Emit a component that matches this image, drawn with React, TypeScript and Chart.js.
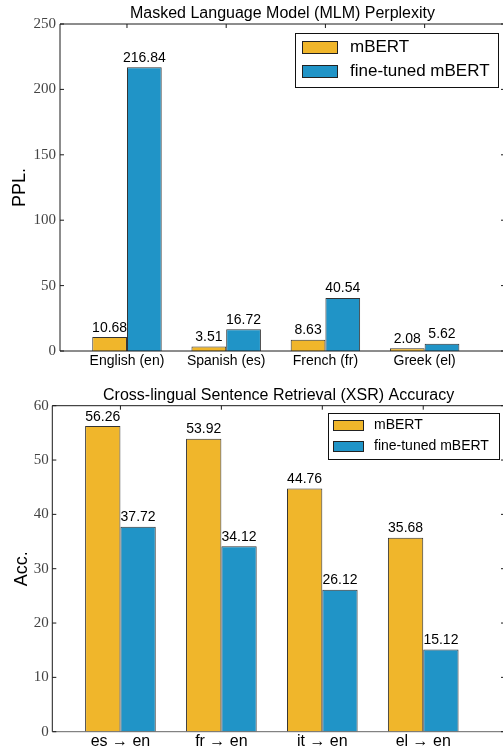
import React, { useEffect, useRef } from 'react';
import { Chart, registerables } from 'chart.js';

Chart.register(...registerables);

// ---------- data ----------
const seriesLabels = ['mBERT', 'fine-tuned mBERT'];

const mlmCategories = ['English (en)', 'Spanish (es)', 'French (fr)', 'Greek (el)'];
const mlmBase = [10.68, 3.51, 8.63, 2.08];
const mlmTuned = [216.84, 16.72, 40.54, 5.62];
const mlmTicks = [0, 50, 100, 150, 200, 250];

const xsrCategories = ['es → en', 'fr → en', 'it → en', 'el → en'];
const xsrBase = [56.26, 53.92, 44.76, 35.68];
const xsrTuned = [37.72, 34.12, 26.12, 15.12];
const xsrTicks = [0, 10, 20, 30, 40, 50, 60];

// ---------- style ----------
const YELLOW = '#F0B62B';
const BLUE = '#2094C7';
const EDGE = '#333333';
const SANS = "'Liberation Sans', Arial, sans-serif";
const SERIF = "'Liberation Serif', 'Times New Roman', serif";

const framePlugin = {
  id: 'frame',
  afterDraw(chart: any, _args: any, opts: any) {
    const { ctx, chartArea: ca, scales } = chart;
    ctx.save();
    ctx.lineWidth = 1;
    ctx.strokeStyle = '#1a1a1a';
    ctx.beginPath();
    ctx.moveTo(ca.left, ca.bottom);
    ctx.lineTo(ca.left, ca.top);
    ctx.lineTo(ca.right, ca.top);
    ctx.lineTo(ca.right, ca.bottom);
    ctx.stroke();
    ctx.strokeStyle = opts.bottomColor || '#1a1a1a';
    ctx.beginPath();
    ctx.moveTo(ca.left, ca.bottom);
    ctx.lineTo(ca.right, ca.bottom);
    ctx.stroke();
    ctx.strokeStyle = '#1a1a1a';
    ctx.beginPath();
    scales.y.ticks.forEach((t: any) => {
      const py = scales.y.getPixelForValue(t.value);
      ctx.moveTo(ca.left, py);
      ctx.lineTo(ca.left + 4, py);
      ctx.moveTo(ca.right, py);
      ctx.lineTo(ca.right - 4, py);
    });
    scales.x.ticks.forEach((t: any) => {
      const px = scales.x.getPixelForValue(t.value);
      ctx.moveTo(px, ca.top);
      ctx.lineTo(px, ca.top + 4);
    });
    ctx.stroke();
    ctx.restore();
  },
};

const valuePlugin = {
  id: 'values',
  afterDatasetsDraw(chart: any, _args: any, opts: any) {
    const { ctx } = chart;
    ctx.save();
    ctx.font = `${opts.size || 14}px ${SANS}`;
    ctx.fillStyle = '#000';
    ctx.textAlign = 'center';
    ctx.textBaseline = 'alphabetic';
    chart.data.datasets.forEach((ds: any, i: number) => {
      const meta = chart.getDatasetMeta(i);
      meta.data.forEach((el: any, j: number) => {
        const v = ds.data[j].y;
        ctx.fillText(v.toFixed(2), el.x, el.y - 5.5);
      });
    });
    ctx.restore();
  },
};

const boxLegendPlugin = {
  id: 'boxLegend',
  afterDraw(chart: any, _args: any, o: any) {
    const { ctx, chartArea: ca } = chart;
    const left = ca.right - o.right - o.width;
    const top = ca.top + o.top;
    ctx.save();
    ctx.fillStyle = '#fff';
    ctx.fillRect(left, top, o.width, o.height);
    ctx.strokeStyle = '#111';
    ctx.lineWidth = 1;
    ctx.strokeRect(left + 0.5, top + 0.5, o.width, o.height);
    ctx.font = `${o.fontSize}px ${SANS}`;
    ctx.textAlign = 'left';
    ctx.textBaseline = 'middle';
    chart.data.datasets.forEach((ds: any, i: number) => {
      const cy = top + o.rows[i];
      ctx.fillStyle = ds.backgroundColor;
      ctx.fillRect(left + o.patchX, cy - o.patchH / 2, o.patchW, o.patchH);
      ctx.strokeStyle = '#222';
      ctx.strokeRect(left + o.patchX + 0.5, cy - o.patchH / 2 + 0.5, o.patchW, o.patchH);
      ctx.fillStyle = '#000';
      ctx.fillText(ds.label, left + o.textX, cy + 0.5);
    });
    ctx.restore();
  },
};

type Spec = {
  categories: string[];
  base: number[];
  tuned: number[];
  yTicks: number[];
  title: string;
  yLabel: string;
  lay: any;
  legend: any;
};

function makeConfig(s: Spec): any {
  const L = s.lay;
  return {
    type: 'bar',
    data: {
      datasets: [
        {
          label: seriesLabels[0],
          data: s.base.map((v, i) => ({ x: i, y: v })),
          backgroundColor: YELLOW,
          borderColor: EDGE,
          borderWidth: 1,
        },
        {
          label: seriesLabels[1],
          data: s.tuned.map((v, i) => ({ x: i, y: v })),
          backgroundColor: BLUE,
          borderColor: EDGE,
          borderWidth: 1,
        },
      ],
    },
    options: {
      responsive: false,
      animation: false,
      devicePixelRatio: 1,
      categoryPercentage: 0.7,
      barPercentage: 1,
      layout: { padding: { left: 0, right: L.padRight, top: L.padTop, bottom: 0 } },
      plugins: {
        legend: { display: false },
        tooltip: { enabled: false },
        title: {
          display: true,
          fullSize: false,
          text: s.title,
          color: '#000',
          font: { family: SANS, size: 16, weight: 'normal', lineHeight: 1.2 },
          padding: { top: 0, bottom: L.titleGap },
        },
        frame: { bottomColor: L.bottomColor },
        values: { size: 14 },
        boxLegend: s.legend,
      },
      scales: {
        x: {
          type: 'linear',
          offset: false,
          min: -0.675,
          max: 3.81,
          grid: { display: false, drawTicks: false, offset: false },
          border: { display: false },
          afterBuildTicks: (sc: any) => {
            sc.ticks = s.categories.map((_, i) => ({ value: i }));
          },
          afterFit: (sc: any) => {
            sc.height = L.xHeight;
          },
          ticks: {
            autoSkip: false,
            maxRotation: 0,
            color: '#000',
            padding: L.xPad,
            font: { family: SANS, size: L.xFont, lineHeight: 1.2 },
            callback: (v: any) => s.categories[v] ?? '',
          },
        },
        y: {
          min: s.yTicks[0],
          max: s.yTicks[s.yTicks.length - 1],
          grid: { display: false, drawTicks: false },
          border: { display: false },
          afterBuildTicks: (sc: any) => {
            sc.ticks = s.yTicks.map((v) => ({ value: v }));
          },
          afterFit: (sc: any) => {
            sc.width = L.yWidth;
          },
          ticks: {
            color: '#444',
            padding: L.yPad,
            font: { family: SERIF, size: 15 },
          },
          title: {
            display: true,
            text: s.yLabel,
            color: '#000',
            font: { family: SANS, size: 18, lineHeight: 1.2 },
            padding: { top: L.yTitlePad, bottom: 0 },
          },
        },
      },
    },
    plugins: [framePlugin, valuePlugin, boxLegendPlugin],
  };
}

function BarChart({ spec, top, height }: { spec: Spec; top: number; height: number }) {
  const ref = useRef<HTMLCanvasElement | null>(null);
  useEffect(() => {
    if (!ref.current) return;
    const chart = new Chart(ref.current, makeConfig(spec));
    return () => chart.destroy();
  }, [spec]);
  return (
    <canvas
      ref={ref}
      width={520}
      height={height}
      style={{ position: 'absolute', left: 0, top, width: 520, height, display: 'block' }}
    />
  );
}

const mlmSpec: Spec = {
  categories: mlmCategories,
  base: mlmBase,
  tuned: mlmTuned,
  yTicks: mlmTicks,
  title: 'Masked Language Model (MLM) Perplexity',
  yLabel: 'PPL.',
  lay: {
    padRight: 15,
    padTop: 4.4,
    titleGap: 0.4,
    xHeight: 29,
    xPad: 2,
    xFont: 14,
    yWidth: 60,
    yPad: 4,
    yTitlePad: 9.2,
    bottomColor: '#1a1a1a',
  },
  legend: {
    right: 7,
    top: 9,
    width: 203,
    height: 54,
    patchX: 7,
    patchW: 35,
    patchH: 12,
    textX: 55,
    rows: [14, 38],
    fontSize: 17,
  },
};

const xsrSpec: Spec = {
  categories: xsrCategories,
  base: xsrBase,
  tuned: xsrTuned,
  yTicks: xsrTicks,
  title: 'Cross-lingual Sentence Retrieval (XSR) Accuracy',
  yLabel: 'Acc.',
  lay: {
    padRight: 15,
    padTop: 6.4,
    titleGap: 0.1,
    xHeight: 17.3,
    xPad: 0.4,
    xFont: 16,
    yWidth: 52.3,
    yPad: 3.5,
    yTitlePad: 11.2,
    bottomColor: '#666',
  },
  legend: {
    right: 6,
    top: 7.3,
    width: 171,
    height: 46,
    patchX: 5,
    patchW: 30,
    patchH: 10,
    textX: 46,
    rows: [12, 33],
    fontSize: 14,
  },
};

export default function App() {
  return (
    <div
      style={{
        position: 'fixed',
        left: 0,
        top: 0,
        width: 503,
        height: 749,
        overflow: 'hidden',
        background: '#fff',
      }}
    >
      <BarChart spec={mlmSpec} top={0} height={380} />
      <BarChart spec={xsrSpec} top={380} height={369} />
    </div>
  );
}
